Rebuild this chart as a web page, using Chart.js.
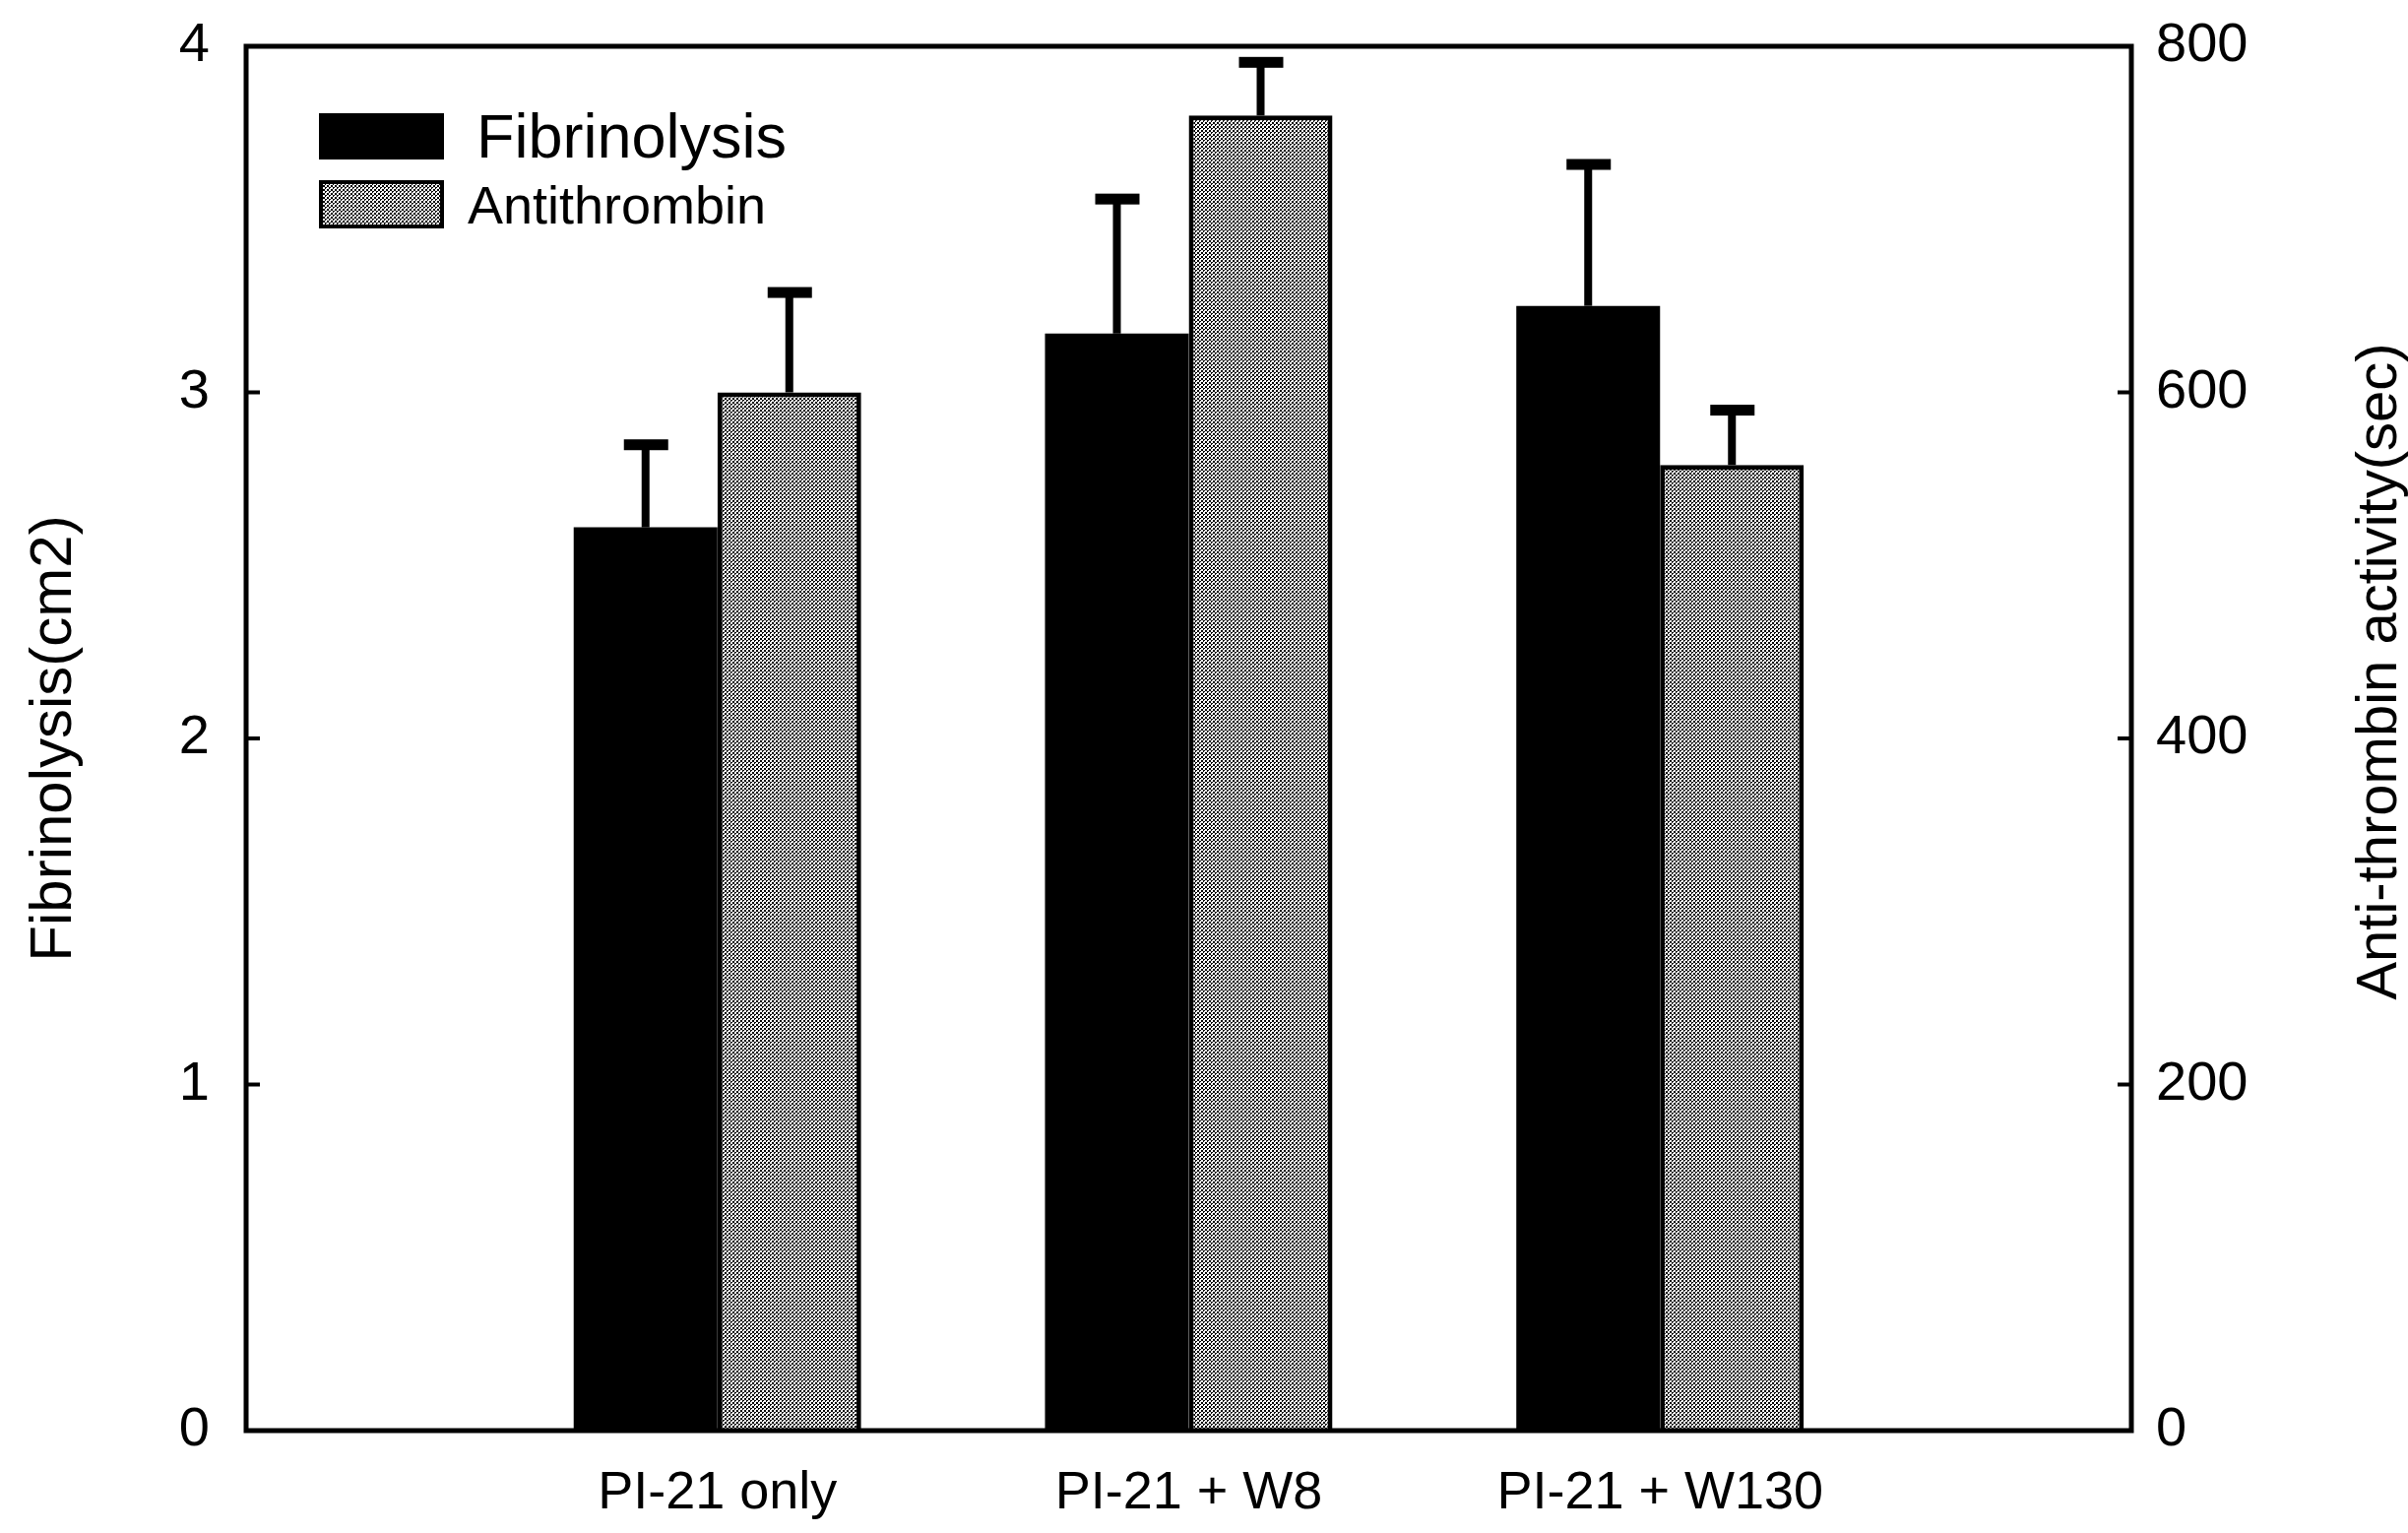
<!DOCTYPE html>
<html>
<head>
<meta charset="utf-8">
<title>Fibrinolysis and anti-thrombin activity</title>
<script src="https://cdn.jsdelivr.net/npm/chart.js@4.4.0/dist/chart.umd.min.js"></script>
<style>
  html, body { margin: 0; padding: 0; background: #fff; }
  canvas { display: block; }
</style>
</head>
<body>
<canvas id="chart" width="2446" height="1557"></canvas>
<script>
"use strict";

var categories = ["PI-21 only", "PI-21 + W8", "PI-21 + W130"];
var fibrinolysis = [2.61, 3.17, 3.25]; // cm2
var fibrinolysisErr = [0.24, 0.39, 0.41];
var antithrombin = [600, 760, 558]; // sec
var antithrombinErr = [58, 31, 32];
var leftTicks = [0, 1, 2, 3, 4];
var rightTicks = [0, 200, 400, 600, 800];

var FONT = '"Liberation Sans", Arial, sans-serif';
Chart.defaults.font.family = FONT;
Chart.defaults.color = "#000";

var canvas = document.getElementById("chart");
var ctx = canvas.getContext("2d");

// dotted grey fill for the antithrombin bars
function halftone() {
  var tile = document.createElement("canvas");
  tile.width = 4;
  tile.height = 4;
  var c = tile.getContext("2d");
  c.fillStyle = "#fff";
  c.fillRect(0, 0, 4, 4);
  c.fillStyle = "#000";
  c.fillRect(0, 0, 2, 2);
  c.fillRect(2, 2, 1, 2);
  c.fillRect(3, 2, 1, 1);
  return ctx.createPattern(tile, "repeat");
}
var grey = halftone();

function points(values) {
  return values.map(function (v, i) {
    return { x: i + 1, y: v };
  });
}

// keep the plot box where the layout padding puts it
function noLabelPadding(s) {
  s.paddingTop = 0;
  s.paddingBottom = 0;
}

var whiteBg = {
  id: "whiteBg",
  beforeDraw: function (chart) {
    var c = chart.ctx;
    c.save();
    c.fillStyle = "#fff";
    c.fillRect(0, 0, chart.width, chart.height);
    c.restore();
  },
};

// upper error bars (stem + cap) on top of each bar
var errorBars = {
  id: "errorBars",
  afterDatasetsDraw: function (chart) {
    var c = chart.ctx;
    chart.data.datasets.forEach(function (ds, i) {
      var meta = chart.getDatasetMeta(i);
      var scale = chart.scales[ds.yAxisID];
      meta.data.forEach(function (bar, j) {
        var top = scale.getPixelForValue(ds.data[j].y + ds.errors[j]);
        c.save();
        c.fillStyle = "#000";
        c.fillRect(bar.x - 4, top, 8, bar.y - top);
        c.fillRect(bar.x - 22, top - 5, 45, 11);
        c.restore();
      });
    });
  },
};

// box around the plot with short inward ticks
var frame = {
  id: "frame",
  afterDatasetsDraw: function (chart) {
    var c = chart.ctx;
    var a = chart.chartArea;
    c.save();
    c.strokeStyle = "#000";
    c.lineWidth = 5;
    c.strokeRect(a.left, a.top, a.right - a.left, a.bottom - a.top);
    c.lineWidth = 4;
    var yl = chart.scales.y;
    yl.ticks.forEach(function (t) {
      var py = yl.getPixelForValue(t.value);
      c.beginPath();
      c.moveTo(a.left, py);
      c.lineTo(a.left + 14, py);
      c.stroke();
    });
    var yr = chart.scales.y1;
    yr.ticks.forEach(function (t) {
      var py = yr.getPixelForValue(t.value);
      c.beginPath();
      c.moveTo(a.right, py);
      c.lineTo(a.right - 14, py);
      c.stroke();
    });
    c.restore();
  },
};

var boxLegend = {
  id: "boxLegend",
  afterDraw: function (chart) {
    var c = chart.ctx;
    var a = chart.chartArea;
    var ds = chart.data.datasets;
    var rows = [
      { top: 68, h: 47, tx: 234, ty: 113, size: 63 },
      { top: 136, h: 49, tx: 225, ty: 180, size: 54 },
    ];
    c.save();
    rows.forEach(function (r, i) {
      var x = a.left + 74;
      var y = a.top + r.top;
      c.fillStyle = ds[i].backgroundColor;
      c.fillRect(x, y, 127, r.h);
      if (ds[i].borderWidth) {
        c.lineWidth = 4;
        c.strokeStyle = "#000";
        c.strokeRect(x + 2, y + 2, 123, r.h - 4);
      }
      c.fillStyle = "#000";
      c.font = r.size + "px " + FONT;
      c.textAlign = "left";
      c.textBaseline = "alphabetic";
      c.fillText(ds[i].label, a.left + r.tx, a.top + r.ty);
    });
    c.restore();
  },
};

// right axis title reads bottom-to-top like the left one
var rightTitle = {
  id: "rightTitle",
  afterDraw: function (chart) {
    var c = chart.ctx;
    c.save();
    c.translate(2418, 682);
    c.rotate(-Math.PI / 2);
    c.font = "58px " + FONT;
    c.fillStyle = "#000";
    c.textAlign = "center";
    c.textBaseline = "middle";
    c.fillText("Anti-thrombin activity(sec)", 0, 0);
    c.restore();
  },
};

new Chart(canvas, {
  type: "bar",
  data: {
    datasets: [
      {
        label: "Fibrinolysis",
        data: points(fibrinolysis),
        errors: fibrinolysisErr,
        yAxisID: "y",
        backgroundColor: "#000",
        borderWidth: 0,
        categoryPercentage: 0.61,
        barPercentage: 1,
      },
      {
        label: "Antithrombin",
        data: points(antithrombin),
        errors: antithrombinErr,
        yAxisID: "y1",
        backgroundColor: grey,
        borderColor: "#000",
        borderWidth: 5,
        borderSkipped: "bottom",
        categoryPercentage: 0.61,
        barPercentage: 1,
      },
    ],
  },
  options: {
    responsive: false,
    devicePixelRatio: 1,
    animation: false,
    layout: { padding: { top: 47, left: 0, right: 0, bottom: 0 } },
    plugins: {
      legend: { display: false },
      tooltip: { enabled: false },
    },
    scales: {
      x: {
        type: "linear",
        min: 0,
        max: categories.length + 1,
        offset: false,
        grid: { display: false, drawTicks: false, offset: false },
        border: { display: false },
        afterBuildTicks: function (s) {
          s.ticks = categories.map(function (c, i) {
            return { value: i + 1 };
          });
        },
        ticks: {
          padding: 32,
          autoSkip: false,
          maxRotation: 0,
          font: { size: 54 },
          callback: function (v) {
            return categories[v - 1];
          },
        },
        afterFit: function (s) {
          s.height = 104;
          s.paddingLeft = 0;
          s.paddingRight = 0;
        },
      },
      y: {
        position: "left",
        min: 0,
        max: 4,
        grid: { display: false, drawTicks: false },
        border: { display: false },
        afterBuildTicks: function (s) {
          s.ticks = leftTicks.map(function (v) {
            return { value: v };
          });
        },
        ticks: { padding: 37, font: { size: 56 } },
        title: {
          display: true,
          text: "Fibrinolysis(cm2)",
          font: { size: 60 },
          padding: { top: 19, bottom: 0 },
        },
        afterFit: function (s) {
          s.width = 250;
          noLabelPadding(s);
        },
      },
      y1: {
        position: "right",
        min: 0,
        max: 800,
        grid: { display: false, drawTicks: false },
        border: { display: false },
        afterBuildTicks: function (s) {
          s.ticks = rightTicks.map(function (v) {
            return { value: v };
          });
        },
        ticks: { padding: 25, font: { size: 56 } },
        afterFit: function (s) {
          s.width = 281;
          noLabelPadding(s);
        },
      },
    },
  },
  plugins: [whiteBg, frame, errorBars, boxLegend, rightTitle],
});
</script>
</body>
</html>
